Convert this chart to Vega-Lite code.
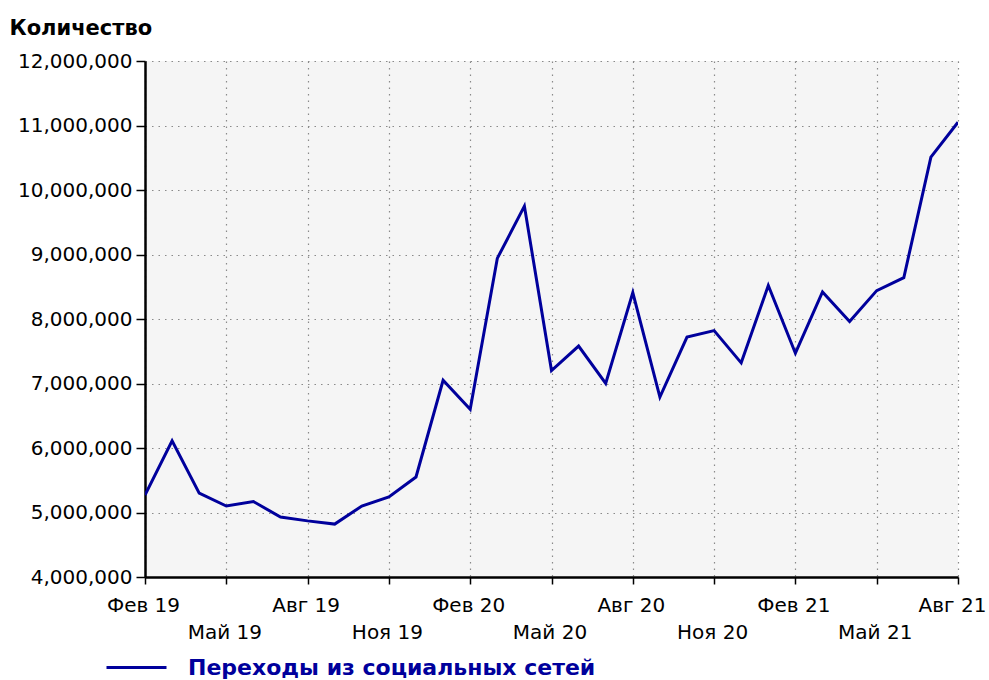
{
  "$schema": "https://vega.github.io/schema/vega-lite/v6.json",
  "width": 813,
  "height": 516,
  "autosize": "none",
  "padding": {"left": 145, "top": 61, "right": 31, "bottom": 103},
  "background": "#ffffff",
  "config": {
    "view": {"fill": "#f5f5f5", "stroke": null},
    "font": "DejaVu Sans"
  },
  "data": {
    "values": [
      {"month": "Фев 19", "value": 5270000, "series": "Переходы из социальных сетей"},
      {"month": "Мар 19", "value": 6110000, "series": "Переходы из социальных сетей"},
      {"month": "Апр 19", "value": 5300000, "series": "Переходы из социальных сетей"},
      {"month": "Май 19", "value": 5100000, "series": "Переходы из социальных сетей"},
      {"month": "Июн 19", "value": 5170000, "series": "Переходы из социальных сетей"},
      {"month": "Июл 19", "value": 4930000, "series": "Переходы из социальных сетей"},
      {"month": "Авг 19", "value": 4870000, "series": "Переходы из социальных сетей"},
      {"month": "Сен 19", "value": 4820000, "series": "Переходы из социальных сетей"},
      {"month": "Окт 19", "value": 5100000, "series": "Переходы из социальных сетей"},
      {"month": "Ноя 19", "value": 5240000, "series": "Переходы из социальных сетей"},
      {"month": "Дек 19", "value": 5550000, "series": "Переходы из социальных сетей"},
      {"month": "Янв 20", "value": 7050000, "series": "Переходы из социальных сетей"},
      {"month": "Фев 20", "value": 6600000, "series": "Переходы из социальных сетей"},
      {"month": "Мар 20", "value": 8940000, "series": "Переходы из социальных сетей"},
      {"month": "Апр 20", "value": 9750000, "series": "Переходы из социальных сетей"},
      {"month": "Май 20", "value": 7200000, "series": "Переходы из социальных сетей"},
      {"month": "Июн 20", "value": 7580000, "series": "Переходы из социальных сетей"},
      {"month": "Июл 20", "value": 7000000, "series": "Переходы из социальных сетей"},
      {"month": "Авг 20", "value": 8410000, "series": "Переходы из социальных сетей"},
      {"month": "Сен 20", "value": 6790000, "series": "Переходы из социальных сетей"},
      {"month": "Окт 20", "value": 7720000, "series": "Переходы из социальных сетей"},
      {"month": "Ноя 20", "value": 7820000, "series": "Переходы из социальных сетей"},
      {"month": "Дек 20", "value": 7320000, "series": "Переходы из социальных сетей"},
      {"month": "Янв 21", "value": 8520000, "series": "Переходы из социальных сетей"},
      {"month": "Фев 21", "value": 7470000, "series": "Переходы из социальных сетей"},
      {"month": "Мар 21", "value": 8420000, "series": "Переходы из социальных сетей"},
      {"month": "Апр 21", "value": 7960000, "series": "Переходы из социальных сетей"},
      {"month": "Май 21", "value": 8440000, "series": "Переходы из социальных сетей"},
      {"month": "Июн 21", "value": 8640000, "series": "Переходы из социальных сетей"},
      {"month": "Июл 21", "value": 10510000, "series": "Переходы из социальных сетей"},
      {"month": "Авг 21", "value": 11050000, "series": "Переходы из социальных сетей"}
    ]
  },
  "mark": {"type": "line", "strokeWidth": 3, "clip": true},
  "encoding": {
    "x": {
      "field": "month",
      "type": "ordinal",
      "sort": null,
      "scale": {"type": "point", "padding": 0},
      "axis": {
        "title": null,
        "values": ["Фев 19", "Май 19", "Авг 19", "Ноя 19", "Фев 20", "Май 20", "Авг 20", "Ноя 20", "Фев 21", "Май 21", "Авг 21"],
        "labelAngle": 0,
        "labelExpr": "(slice(datum.label, 0, 3) == 'Май' || slice(datum.label, 0, 3) == 'Ноя') ? ['', datum.label] : datum.label",
        "labelLineHeight": 27,
        "labelFontSize": 20,
        "labelColor": "#000000",
        "labelPadding": 11,
        "labelOffset": {"condition": {"test": "datum.value == 'Авг 21'", "value": -6}, "value": -2},
        "labelOverlap": false,
        "labelBound": false,
        "labelFlush": false,
        "domainColor": "#000000",
        "domainWidth": 2.5,
        "tickColor": "#000000",
        "tickWidth": 1.5,
        "tickSize": 7,
        "grid": true,
        "gridColor": "#8a8a8a",
        "gridDash": [1.5, 5],
        "gridWidth": 1.2
      }
    },
    "y": {
      "field": "value",
      "type": "quantitative",
      "scale": {"domain": [4000000, 12000000], "nice": false, "zero": false},
      "axis": {
        "values": [4000000, 5000000, 6000000, 7000000, 8000000, 9000000, 10000000, 11000000, 12000000],
        "format": ",d",
        "title": "Количество",
        "titleAngle": 0,
        "titleAlign": "left",
        "titleBaseline": "middle",
        "titleX": -136,
        "titleY": -33,
        "titleFont": "DejaVu Sans",
        "titleFontWeight": "bold",
        "titleFontSize": 21,
        "titleColor": "#000000",
        "labelFontSize": 20,
        "labelColor": "#000000",
        "labelPadding": 4,
        "domainColor": "#000000",
        "domainWidth": 2.5,
        "tickColor": "#000000",
        "tickWidth": 1.5,
        "tickSize": 9,
        "grid": true,
        "gridColor": "#8a8a8a",
        "gridDash": [1.5, 5],
        "gridWidth": 1.2
      }
    },
    "color": {
      "field": "series",
      "type": "nominal",
      "scale": {"range": ["#00009c"]},
      "legend": {
        "title": null,
        "orient": "none",
        "legendX": -40,
        "legendY": 575,
        "padding": 0,
        "symbolType": "stroke",
        "symbolSize": 3600,
        "symbolStrokeWidth": 3,
        "labelFontSize": 22,
        "labelFontWeight": "bold",
        "labelColor": "#00009c",
        "labelOffset": 20,
        "labelLimit": 700
      }
    }
  }
}
